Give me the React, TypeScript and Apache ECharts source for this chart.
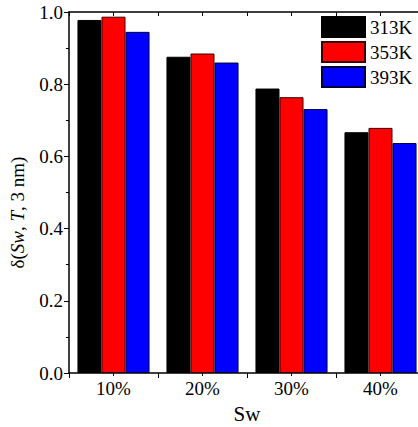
import React, { useEffect, useRef } from "react";
import * as echarts from "echarts";

const categories = ["10%", "20%", "30%", "40%"];
const seriesNames = ["313K", "353K", "393K"];
const s313 = [0.978, 0.876, 0.788, 0.667];
const s353 = [0.987, 0.885, 0.764, 0.679];
const s393 = [0.945, 0.860, 0.731, 0.637];
const colors = ["#000000", "#ff0000", "#0000ff"];
const borders = ["#000000", "#3a0000", "#00003a"];

const FONT = "Liberation Serif";

export default function App() {
  const ref = useRef<HTMLDivElement>(null);
  useEffect(() => {
    if (!ref.current) return;
    const chart = echarts.init(ref.current, null, { renderer: "svg" });
    const data = [s313, s353, s393];
    chart.setOption({
      animation: false,
      backgroundColor: "#ffffff",
      grid: { left: 69, top: 12, right: -7, bottom: 54, outerBoundsMode: "none", containLabel: false },
      legend: {
        orient: "vertical",
        left: 318,
        top: 13,
        itemWidth: 43,
        itemHeight: 20,
        itemGap: 3,
        padding: 3,
        icon: "rect",
        data: seriesNames,
        textStyle: { fontFamily: FONT, fontSize: 19, color: "#000", padding: [0, 0, 0, 0] },
      },
      xAxis: [
        {
          type: "category",
          data: categories,
          position: "bottom",
          axisLine: { show: true, lineStyle: { color: "#000", width: 1.5 } },
          axisTick: { show: false },
          axisLabel: { fontFamily: FONT, fontSize: 19, color: "#000", margin: 6 },
          name: "Sw",
          nameLocation: "middle",
          nameGap: 30,
          nameTextStyle: { fontFamily: FONT, fontSize: 21, color: "#000" },
        },
        {
          type: "value",
          position: "bottom",
          min: 0,
          max: 4,
          interval: 1,
          axisLine: { show: false },
          axisTick: { show: true, inside: false, length: 5, lineStyle: { color: "#000", width: 1 } },
          minorTick: { show: true, splitNumber: 2, length: 3, lineStyle: { color: "#000", width: 1 } },
          axisLabel: { show: false },
          splitLine: { show: false },
        },
        {
          type: "value",
          position: "top",
          min: 0,
          max: 4,
          interval: 0.5,
          axisLine: { show: true, onZero: false, lineStyle: { color: "#000", width: 1.5 } },
          axisTick: { show: true, inside: true, length: 4, lineStyle: { color: "#000", width: 1 } },
          axisLabel: { show: false },
          splitLine: { show: false },
        },
      ],
      yAxis: {
        type: "value",
        min: 0,
        max: 1,
        interval: 0.2,
        axisLine: { show: true, lineStyle: { color: "#000", width: 1.5 } },
        axisTick: { show: true, length: 5, lineStyle: { color: "#000", width: 1 } },
        minorTick: { show: true, splitNumber: 2, length: 3, lineStyle: { color: "#000", width: 1 } },
        splitLine: { show: false },
        axisLabel: {
          fontFamily: FONT,
          fontSize: 19,
          color: "#000",
          margin: 6,
          formatter: (v: number) => v.toFixed(1),
        },
        name: "{n|δ(}{i|Sw}{n|, }{i|T}{n|, 3 nm)}",
        nameLocation: "middle",
        nameGap: 42,
        nameRotate: 90,
        nameTextStyle: {
          padding: [0, 40, 0, 0],
          rich: {
            n: { fontFamily: FONT, fontSize: 19, color: "#000" },
            i: { fontFamily: FONT, fontSize: 19, color: "#000", fontStyle: "italic" },
          },
        },
      },
      series: seriesNames.map((name, i) => ({
        name,
        type: "bar",
        xAxisIndex: 0,
        data: data[i],
        barGap: "0%",
        barCategoryGap: "19%",
        itemStyle: { color: colors[i], borderColor: borders[i], borderWidth: 1 },
      })),
    });
    return () => chart.dispose();
  }, []);
  return (
    <div
      ref={ref}
      style={{ position: "absolute", left: 0, top: 0, width: 418, height: 427 }}
    />
  );
}
